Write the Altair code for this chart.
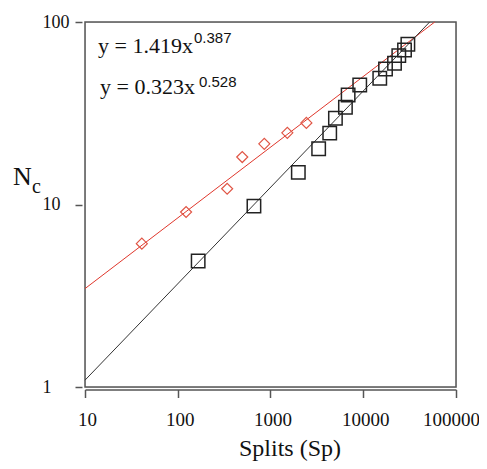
import altair as alt
import pandas as pd

# Red series (diamonds)
red_x = [41, 123, 341, 496, 857, 1518, 2436]
red_y = [6.1, 9.1, 12.2, 18.2, 21.5, 24.7, 28.0]

# Black series (squares)
blk_x = [166, 663, 1995, 3305, 4350, 5012, 6425, 6870, 9165, 15070, 17380, 21730, 24170, 27860, 30270]
blk_y = [4.9, 9.8, 15.0, 20.2, 24.6, 29.7, 34.1, 39.8, 45.2, 49.2, 55.3, 59.4, 65.4, 70.3, 75.5]

# Fit line end points
red_fit_x = [10, 59000]
red_fit_y = [3.46, 100]
blk_fit_x = [10, 52000]
blk_fit_y = [1.09, 100]

x_ticks = [10, 100, 1000, 10000, 100000]
y_ticks = [1, 10, 100]

SERIF = "Liberation Serif"
SANS = "Liberation Sans"
W, H = 371, 365

xs = alt.Scale(type="log", domain=[10, 100000], nice=False)
ys = alt.Scale(type="log", domain=[1, 100], nice=False)

df_red = pd.DataFrame({"x": red_x, "y": red_y})
df_blk = pd.DataFrame({"x": blk_x, "y": blk_y})
df_rf = pd.DataFrame({"x": red_fit_x, "y": red_fit_y})
df_bf = pd.DataFrame({"x": blk_fit_x, "y": blk_fit_y})

xaxis = alt.Axis(values=x_ticks, format="d", title=None, grid=False, offset=2.5,
                 domain=True, domainColor="#555", domainWidth=1.5,
                 tickSize=8, tickColor="#555", tickWidth=1.5,
                 labelFont=SERIF, labelFontSize=19, labelColor="#111", labelPadding=13,
                 labelFlush=False,
                 labelOffset={"condition": {"test": "datum.value >= 100000", "value": -5},
                              "value": 2})
yaxis = alt.Axis(values=y_ticks, format="d", title=None, grid=False, offset=3,
                 domain=False, tickSize=7, tickColor="#555", tickWidth=1.5,
                 labelFont=SERIF, labelFontSize=18, labelColor="#111",
                 labelAlign="left", labelPadding=33, labelFlush=False)

frame = alt.Chart(pd.DataFrame({"a": [0]})).mark_rect(
    fill=None, stroke="#555", strokeWidth=1.5).encode(
    x=alt.value(0), x2=alt.value(W), y=alt.value(0), y2=alt.value(H))

red_line = alt.Chart(df_rf).mark_line(color="#e0372c", strokeWidth=1).encode(
    x=alt.X("x:Q", scale=xs, axis=xaxis), y=alt.Y("y:Q", scale=ys, axis=yaxis))
blk_line = alt.Chart(df_bf).mark_line(color="#333333", strokeWidth=1).encode(
    x=alt.X("x:Q", scale=xs), y=alt.Y("y:Q", scale=ys))
red_pts = alt.Chart(df_red).mark_point(shape="diamond", size=121, filled=False,
                                       color="#e05545", strokeWidth=1.2, opacity=1).encode(
    x=alt.X("x:Q", scale=xs), y=alt.Y("y:Q", scale=ys))
blk_pts = alt.Chart(df_blk).mark_point(shape="square", size=180, filled=False,
                                       color="#222222", strokeWidth=1.5, opacity=1).encode(
    x=alt.X("x:Q", scale=xs), y=alt.Y("y:Q", scale=ys))

def txt(s, x, y, font=SERIF, size=20, align="left"):
    return alt.Chart(pd.DataFrame({"t": [s]})).mark_text(
        font=font, fontSize=size, align=align, baseline="alphabetic", color="#111").encode(
        text="t:N", x=alt.value(x), y=alt.value(y))

texts = [
    txt("y = 1.419x", 13, 31, size=22),
    txt("0.387", 109, 21, font=SANS, size=15),
    txt("y = 0.323x", 15, 72, size=22),
    txt("0.528", 114, 65, font=SANS, size=15),
    txt("N", -72, 163, size=26),
    txt("c", -53, 171, size=20),
    txt("Splits (Sp)", 205, 434, size=24, align="center"),
]

chart = alt.layer(frame, red_line, blk_line, red_pts, blk_pts, *texts).properties(
    width=W, height=H,
    autosize=alt.AutoSizeParams(type="none"),
    padding={"left": 77, "top": 14, "right": 23, "bottom": 74},
).configure_view(stroke=None).configure(background="white")

chart.save("out.html", embed_options={"renderer": "svg", "actions": False})
